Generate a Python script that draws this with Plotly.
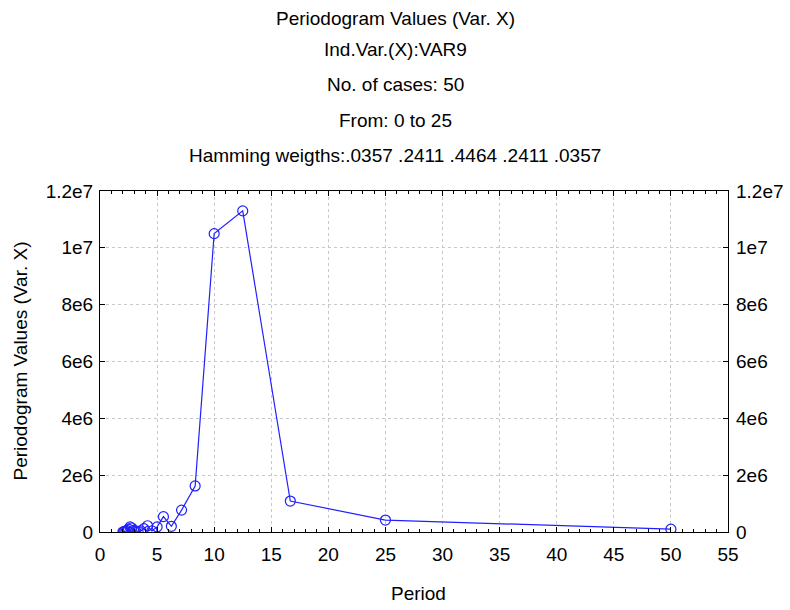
import plotly.graph_objects as go

periods = [50.0, 25.0, 16.667, 12.5, 10.0, 8.333, 7.143, 6.25, 5.556, 5.0,
           4.545, 4.167, 3.846, 3.571, 3.333, 3.125, 2.941, 2.778, 2.632, 2.5,
           2.381, 2.273, 2.174, 2.083, 2.0]
values = [0.10e6, 0.42e6, 1.09e6, 11.3e6, 10.5e6, 1.62e6, 0.77e6, 0.20e6, 0.54e6, 0.18e6,
          0.04e6, 0.22e6, 0.12e6, 0.04e6, 0.02e6, 0.03e6, 0.06e6, 0.14e6, 0.18e6, 0.10e6,
          0.05e6, 0.02e6, 0.03e6, 0.01e6, 0.0]

y_tickvals = [0, 2e6, 4e6, 6e6, 8e6, 1e7, 1.2e7]
y_ticktext = ["0", "2e6", "4e6", "6e6", "8e6", "1e7", "1.2e7"]
x_tickvals = list(range(0, 56, 5))

title_lines = ["Periodogram Values (Var. X)", "Ind.Var.(X):VAR9", "No. of cases: 50",
               "From: 0 to 25", "Hamming weigths:.0357 .2411 .4464 .2411 .0357"]
title_py = [18, 50, 84, 121, 155]

FONT = "Liberation Sans, Arial, sans-serif"
BLUE = "#2020ff"

fig = go.Figure()
fig.add_trace(go.Scatter(
    x=periods, y=values, mode="lines+markers",
    line=dict(color=BLUE, width=1.2),
    marker=dict(symbol="circle-open", size=10, color=BLUE, line=dict(width=1.2)),
    showlegend=False, hoverinfo="x+y"))
fig.add_trace(go.Scatter(x=[periods[0]], y=[values[0]], yaxis="y2",
                         mode="markers", marker=dict(opacity=0), showlegend=False,
                         hoverinfo="skip"))

L, R, T, B = 100, 62, 191, 78
ph = 610 - T - B
annotations = []
for txt, py in zip(title_lines, title_py):
    annotations.append(dict(text=txt, xref="paper", yref="paper",
                            x=(395 - L) / (790 - L - R), y=(610 - B - py) / ph,
                            xanchor="center", yanchor="middle", showarrow=False,
                            font=dict(size=19, color="black", family=FONT)))
annotations.append(dict(text="Periodogram Values (Var. X)", xref="paper", yref="paper",
                        x=(20 - L) / (790 - L - R), y=0.5, textangle=-90,
                        xanchor="center", yanchor="middle", showarrow=False,
                        font=dict(size=19, color="black", family=FONT)))
annotations.append(dict(text="Period", xref="paper", yref="paper",
                        x=(418 - L) / (790 - L - R), y=(610 - B - 593) / ph,
                        xanchor="center", yanchor="middle", showarrow=False,
                        font=dict(size=19, color="black", family=FONT)))

axis_common = dict(showline=True, linecolor="black", linewidth=1,
                   ticks="inside", ticklen=5, tickcolor="black", automargin=False,
                   showgrid=True, gridcolor="#c8c8c8", griddash="dot", gridwidth=1,
                   zeroline=False, tickfont=dict(size=19, color="black", family=FONT))

fig.update_layout(
    width=790, height=610, autosize=False,
    margin=dict(l=L, r=R, t=T, b=B, autoexpand=False),
    paper_bgcolor="white", plot_bgcolor="white",
    font=dict(family=FONT, color="black"),
    showlegend=False,
    annotations=annotations,
    xaxis=dict(range=[0, 55], tickmode="array", tickvals=x_tickvals, mirror="ticks",
               ticklabelstandoff=5,
               minor=dict(dtick=1, ticks="inside", ticklen=3, tickcolor="black", showgrid=False),
               **axis_common),
    yaxis=dict(range=[0, 1.2e7], tickmode="array", tickvals=y_tickvals, ticktext=y_ticktext,
               mirror=True, ticklabelstandoff=2, **axis_common),
    yaxis2=dict(range=[0, 1.2e7], overlaying="y", side="right", tickmode="array",
                tickvals=y_tickvals, ticktext=y_ticktext, showgrid=False, zeroline=False,
                ticks="inside", ticklen=5, tickcolor="black", showline=False,
                ticklabelstandoff=7, automargin=False,
                tickfont=dict(size=19, color="black", family=FONT)),
)

fig.write_html("out.html")
